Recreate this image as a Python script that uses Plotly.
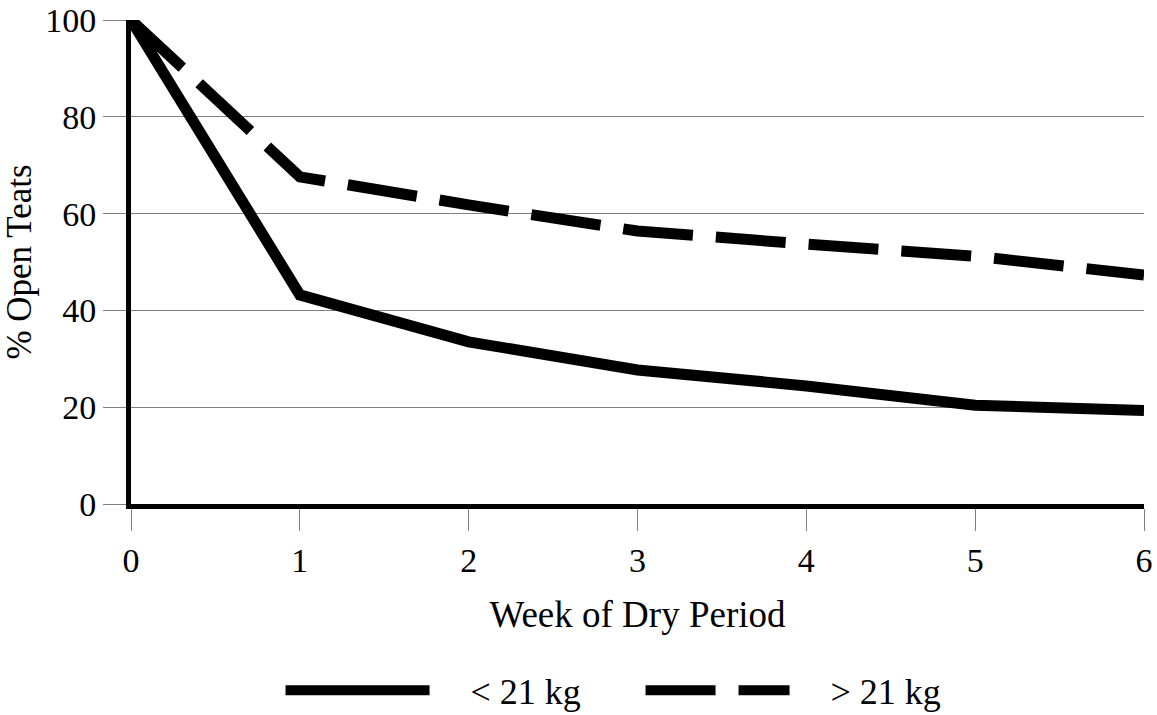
import plotly.graph_objects as go

weeks = [0, 1, 2, 3, 4, 5, 6]
below_21 = [100, 43.2, 33.5, 27.7, 24.4, 20.4, 19.3]
above_21 = [100, 67.6, 61.8, 56.4, 53.7, 51.2, 47.3]
series_names = ["< 21 kg", "> 21 kg"]
y_ticks = [0, 20, 40, 60, 80, 100]

FAM = "Liberation Serif, Times New Roman, serif"
TICK_FONT = dict(family=FAM, size=34, color="black")
TITLE_FONT = dict(family=FAM, size=37, color="black")
YTITLE_FONT = dict(family=FAM, size=35, color="black")
LEG_FONT = dict(family=FAM, size=36, color="black")
PAD = "\u00a0" * 4

fig = go.Figure()
fig.add_trace(go.Scatter(x=weeks, y=below_21, mode="lines", name=PAD + series_names[0],
                         line=dict(color="black", width=11), cliponaxis=False))
fig.add_trace(go.Scatter(x=weeks, y=above_21, mode="lines", name=PAD + series_names[1],
                         line=dict(color="black", width=11, dash="70px,23px"), cliponaxis=False))

fig.update_layout(
    width=1157, height=715,
    margin=dict(l=131, r=13, t=20, b=211, autoexpand=False),
    paper_bgcolor="white", plot_bgcolor="white",
    font=TICK_FONT,
    showlegend=True,
    legend=dict(orientation="h", x=0.503, xanchor="center", y=-0.385, yanchor="middle",
                font=LEG_FONT, itemwidth=144, traceorder="normal",
                entrywidth=201, entrywidthmode="pixels"),
)
fig.update_xaxes(range=[0, 6], tickvals=weeks, ticks="outside", ticklen=22, tickcolor="#808080",
                 tickwidth=1, showgrid=False, showline=True, linecolor="black", linewidth=5,
                 zeroline=False, automargin=False,
                 title=dict(text="Week of Dry Period", font=TITLE_FONT, standoff=25),
                 tickfont=TICK_FONT)
fig.update_yaxes(range=[0, 100], tickvals=y_ticks, ticks="outside", ticklen=23,
                 tickcolor="#808080", tickwidth=1, showgrid=True, gridcolor="#808080", gridwidth=1,
                 showline=True, linecolor="black", linewidth=5, zeroline=False, automargin=False,
                 title=dict(text="% Open Teats", font=YTITLE_FONT, standoff=5), tickfont=TICK_FONT)

fig.write_html("out.html", config={"displayModeBar": False},
               post_script="document.body.style.margin='0';")
